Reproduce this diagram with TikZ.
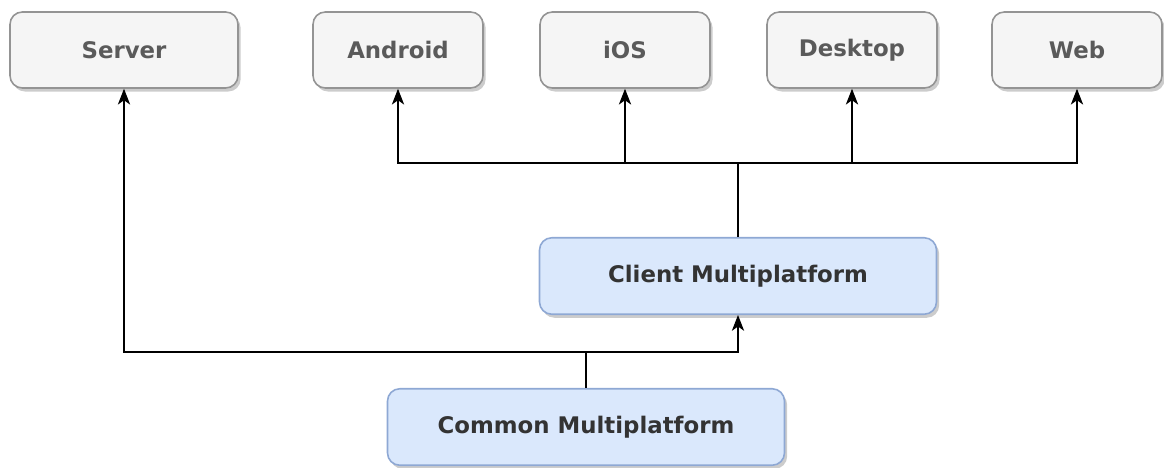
\documentclass[tikz,border=0pt]{standalone}
\usepackage{fontspec}
\setmainfont{DejaVu Sans}
\usetikzlibrary{arrows.meta,shadows}
\definecolor{grayfill}{HTML}{F5F5F5}
\definecolor{grayline}{HTML}{666666}
\definecolor{graytext}{HTML}{5A5A5A}
\definecolor{bluefill}{HTML}{DAE8FC}
\definecolor{blueline}{HTML}{8EA8D4}
\definecolor{bluetext}{HTML}{333333}
\tikzset{
  target/.style={draw=grayline!70, line width=0.9pt, fill=grayfill, rounded corners=7pt,
    minimum width=3.4cm, minimum height=1.52cm, text=graytext,
    font=\fontsize{13}{15}\selectfont\bfseries,
    drop shadow={shadow xshift=1.5pt, shadow yshift=-2pt, opacity=0.2, fill=black}},
  module/.style={target, draw=blueline, fill=bluefill, text=bluetext,
    minimum width=7.94cm, minimum height=1.53cm},
  arr/.style={-{Stealth[length=9pt,width=7pt,inset=2.5pt]}, line width=0.6pt}
}
\begin{document}
\begin{tikzpicture}
\useasboundingbox (0,0) rectangle (23.28,-9.36);
% targets
\node[target, minimum width=4.56cm] (server) at (2.48, -1.0) {Server};
\node[target] (android) at (7.96, -1.0) {Android};
\node[target] (ios) at (12.5, -1.0) {iOS};
\node[target] (desktop) at (17.04, -1.0) {Desktop};
\node[target] (web) at (21.54, -1.0) {Web};
% modules
\node[module] (client) at (14.76, -5.52) {Client Multiplatform};
\node[module] (common) at (11.72, -8.54) {Common Multiplatform};
\coordinate (topbus) at (0, -3.26);
\coordinate (lowbus) at (0, -7.04);
% client -> platforms
\draw[arr] (client.north) -- (client.north |- topbus) -| (android.south);
\draw[arr] (client.north) -- (client.north |- topbus) -| (ios.south);
\draw[arr] (client.north) -- (client.north |- topbus) -| (desktop.south);
\draw[arr] (client.north) -- (client.north |- topbus) -| (web.south);
% common -> server, client
\draw[arr] (common.north) -- (common.north |- lowbus) -| (server.south);
\draw[arr] (common.north) -- (common.north |- lowbus) -| (client.south);
\end{tikzpicture}
\end{document}
